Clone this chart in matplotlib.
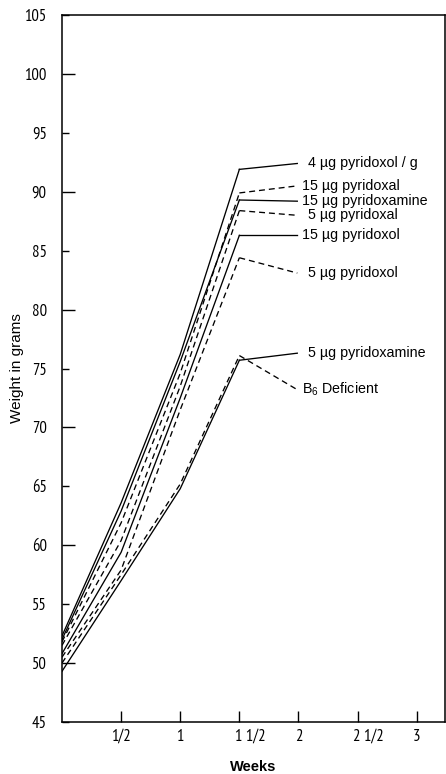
import matplotlib
matplotlib.use("Agg")
import matplotlib.pyplot as plt
from matplotlib import font_manager
from matplotlib.transforms import ScaledTranslation

# Narrow face for the tick numbers, plain sans for the other text
available = {f.name for f in font_manager.fontManager.ttflist}
narrow_pref = ['PT Sans Narrow', 'Roboto Condensed', 'Archivo Narrow', 'Liberation Sans Narrow', 'DejaVu Sans']
narrow_font = next(f for f in narrow_pref if f in available)
plain_font = 'Liberation Sans' if 'Liberation Sans' in available else 'DejaVu Sans'
plt.rcParams['font.family'] = [plain_font, 'DejaVu Sans']
plt.rcParams['mathtext.fontset'] = 'custom'
plt.rcParams['mathtext.rm'] = plain_font

# Body weight (grams) of the groups at 0, 1/2, 1 and 1 1/2 weeks
weeks = [0, 0.5, 1, 1.5]

pyridoxol_4_per_g = [52.3, 63.6, 76.2, 91.9]
pyridoxal_15 = [51.8, 61.9, 74.6, 89.9]
pyridoxamine_15 = [52.0, 62.9, 75.6, 89.3]
pyridoxal_5 = [51.5, 60.4, 73.5, 88.4]
pyridoxol_15 = [50.8, 59.4, 72.5, 86.3]
pyridoxol_5 = [50.5, 57.9, 71.5, 84.4]
pyridoxamine_5 = [49.3, 57.0, 64.8, 75.7]
b6_deficient = [50.0, 57.5, 65.2, 76.1]

series = [pyridoxol_4_per_g, pyridoxal_15, pyridoxamine_15, pyridoxal_5,
          pyridoxol_15, pyridoxol_5, pyridoxamine_5, b6_deficient]
labels = ["4 \u00b5g pyridoxol / g", "15 \u00b5g pyridoxal", "15 \u00b5g pyridoxamine",
          "5 \u00b5g pyridoxal", "15 \u00b5g pyridoxol", "5 \u00b5g pyridoxol",
          "5 \u00b5g pyridoxamine", r"B$_\mathregular{6}$ Deficient"]
dashed = [False, True, False, True, False, True, False, True]
# y value where each leader line meets its label
label_y = [92.4, 90.5, 89.2, 88.0, 86.3, 83.1, 76.3, 73.2]
label_x = [2.08, 2.03, 2.03, 2.08, 2.03, 2.08, 2.08, 2.03]

xtick_pos = [0.5, 1, 1.5, 2, 2.5, 3]
xtick_labels = ["1/2", "1", "1 1/2", "2", "2 1/2", "3"]
ytick_pos = list(range(45, 106, 5))

fig = plt.figure(figsize=(4.46, 7.74), dpi=100)
ax = fig.add_axes([0.139, 0.0672, 0.859, 0.9134])

dash_style = (0, (4.5, 3.0))
for vals, lab, d, ly, lx in zip(series, labels, dashed, label_y, label_x):
    ls = dash_style if d else '-'
    ax.plot(weeks, vals, color='black', lw=0.95, linestyle=ls)
    # leader line from the last point to the label
    ax.plot([weeks[-1], 1.99], [vals[-1], ly], color='black', lw=0.95, linestyle=ls)
    ax.text(lx, ly, lab, fontsize=10.3, va='center', ha='left', color='black')

ax.set_xlim(0, 3.24)
ax.set_ylim(45, 105)

ax.set_xticks(xtick_pos)
ax.set_xticklabels(xtick_labels, fontsize=12, family=narrow_font)
ax.set_yticks(ytick_pos)
ax.set_yticklabels([str(v) for v in ytick_pos], fontsize=12, family=narrow_font)
ax.tick_params(axis='x', direction='in', length=8, width=1.0, pad=5)
ax.tick_params(axis='y', direction='in', length=5, width=1.0, pad=11)
# longer ticks at every ten grams
for t, v in zip(ax.yaxis.get_major_ticks(), ytick_pos):
    if v % 10 == 0:
        t.tick1line.set_markersize(9.5)
# mixed-number labels sit with the whole number left of the tick
shift = ScaledTranslation(8 / 72, 0, fig.dpi_scale_trans)
for lab in ax.get_xticklabels():
    if ' ' in lab.get_text():
        lab.set_transform(lab.get_transform() + shift)

for s in ax.spines.values():
    s.set_linewidth(1.1)

ax.set_xlabel("Weeks", fontsize=10.5, fontweight='bold', labelpad=11)
ax.set_ylabel("Weight in grams", fontsize=11)
ax.yaxis.set_label_coords(-0.099, 0.5)

fig.savefig("out.png", dpi=100)
